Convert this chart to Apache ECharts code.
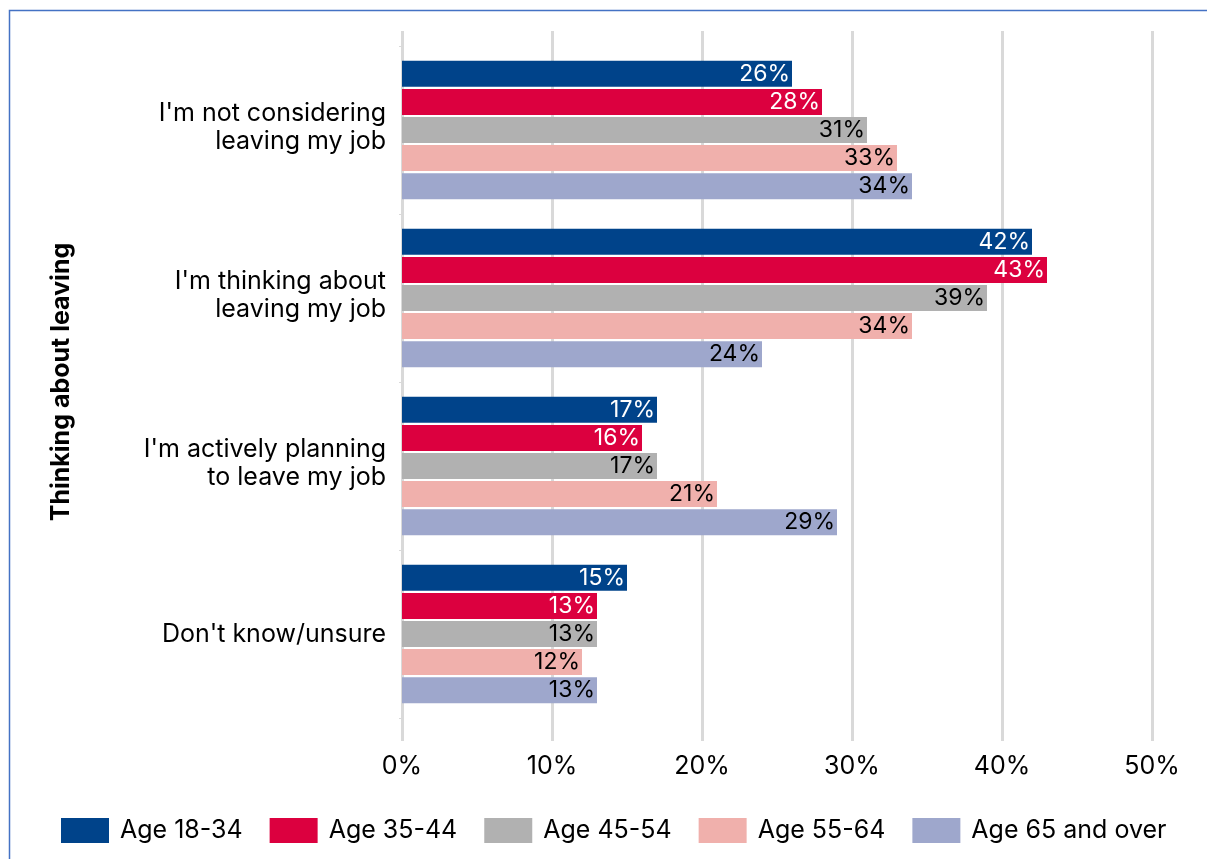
<!DOCTYPE html>
<html>
<head>
<meta charset="utf-8">
<style>
  html, body { margin: 0; padding: 0; background: #ffffff; }
  #chart { width: 1207px; height: 859px; }
</style>
<script src="https://cdn.jsdelivr.net/npm/echarts@6/dist/echarts.min.js"></script>
</head>
<body>
<div id="chart"></div>
<script>
// Survey answers, listed top to bottom
const categories = [
  "I'm not considering\nleaving my job",
  "I'm thinking about\nleaving my job",
  "I'm actively planning\nto leave my job",
  "Don't know/unsure"
];

const seriesNames = ['Age 18-34', 'Age 35-44', 'Age 45-54', 'Age 55-64', 'Age 65 and over'];

// Share of respondents (%) per age group, in category order
const age18to34 = [26, 42, 17, 15];
const age35to44 = [28, 43, 16, 13];
const age45to54 = [31, 39, 17, 13];
const age55to64 = [33, 34, 21, 12];
const age65plus = [34, 24, 29, 13];

const xTicks = [0, 10, 20, 30, 40, 50];

const colors = ['#00438a', '#dc003f', '#b1b1b1', '#f0b0ac', '#9ea7cc'];
const labelColors = ['#ffffff', '#ffffff', '#000000', '#000000', '#000000'];
const values = [age18to34, age35to44, age45to54, age55to64, age65plus];

const FONT = 'Inter, "Noto Sans", sans-serif';

const chart = echarts.init(document.getElementById('chart'), null, { renderer: 'canvas' });

const series = seriesNames.map((name, i) => ({
  name: name,
  type: 'bar',
  xAxisIndex: 0,
  yAxisIndex: 0,
  data: values[i],
  barWidth: 26,
  barGap: '8%',
  itemStyle: { color: colors[i] },
  label: {
    show: true,
    position: 'insideRight',
    distance: 2,
    formatter: '{c}%',
    color: labelColors[i],
    fontFamily: FONT,
    fontSize: 23
  },
  emphasis: { disabled: true }
}));

chart.setOption({
  animation: false,
  backgroundColor: '#ffffff',
  textStyle: { fontFamily: FONT },
  graphic: [{
    type: 'rect',
    shape: { x: 9.5, y: 10.5, width: 1400, height: 1000 },
    style: { fill: 'none', stroke: '#4472c4', lineWidth: 1.5 },
    silent: true
  }],
  grid: [
    { left: 402, width: 750, top: 46, height: 672 },
    { left: 402, width: 750, top: 31, height: 710 }
  ],
  xAxis: [
    {
      gridIndex: 0, type: 'value', min: xTicks[0], max: xTicks[xTicks.length - 1], interval: 10,
      show: false
    },
    {
      gridIndex: 1, type: 'value', min: xTicks[0], max: xTicks[xTicks.length - 1], interval: 10,
      axisLine: { show: false },
      axisTick: { show: false },
      splitLine: { show: true, lineStyle: { color: '#d9d9d9', width: 3 } },
      axisLabel: {
        formatter: '{value}%', color: '#000000', fontFamily: FONT, fontSize: 25, margin: 13
      }
    }
  ],
  yAxis: [
    {
      gridIndex: 0,
      type: 'category',
      inverse: true,
      data: categories,
      axisLine: { show: false },
      axisTick: { show: true, length: 3, lineStyle: { color: '#d9d9d9', width: 1 } },
      axisLabel: {
        color: '#000000', fontFamily: FONT, fontSize: 25, lineHeight: 28,
        align: 'right', margin: 16,
        formatter: function (v) {
          return v.indexOf('\n') >= 0 ? '{two|' + v.replace('\n', '}\n{two|') + '}' : v;
        },
        rich: {
          two: { fontFamily: FONT, fontSize: 25, lineHeight: 28, color: '#000000', padding: [0, 0, 6, 0] }
        }
      },
      name: 'Thinking about leaving',
      nameLocation: 'middle',
      nameRotate: 90,
      nameGap: 328,
      nameTextStyle: { color: '#000000', fontFamily: FONT, fontSize: 25, fontWeight: 'bold' }
    },
    {
      gridIndex: 1, type: 'value', min: 0, max: 1, show: false
    }
  ],
  legend: {
    data: seriesNames,
    left: 56,
    top: 813,
    width: 1145,
    itemWidth: 48,
    itemHeight: 25,
    itemGap: 27,
    icon: 'rect',
    textStyle: { color: '#000000', fontFamily: FONT, fontSize: 25, padding: [0, 0, 0, 6] },
    selectedMode: false
  },
  series: series
});
</script>
</body>
</html>
